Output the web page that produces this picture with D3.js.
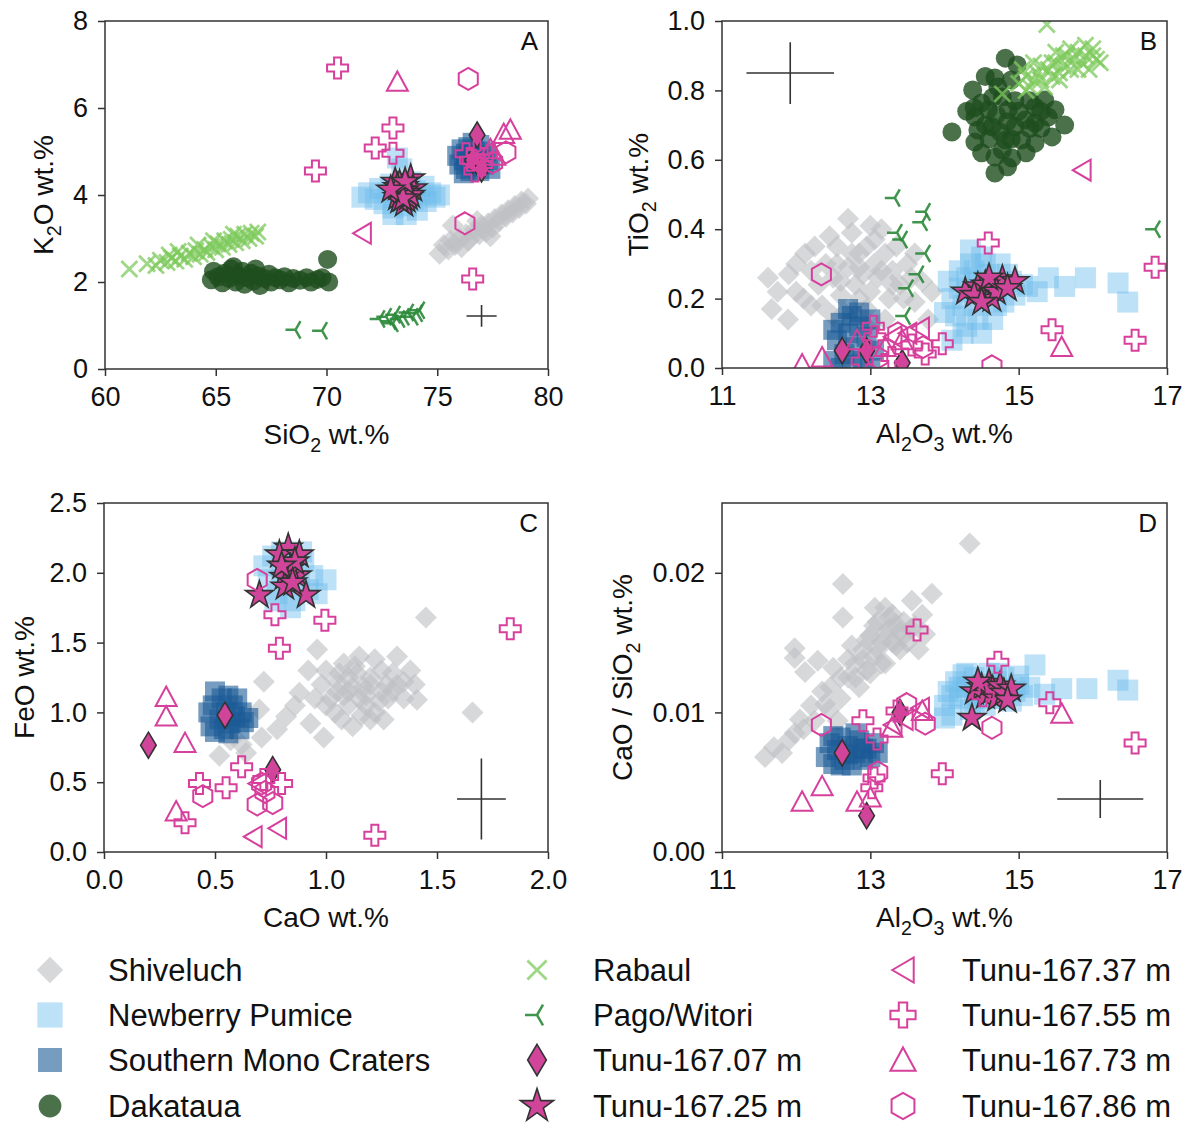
<!DOCTYPE html>
<html><head><meta charset="utf-8">
<script src="https://cdn.jsdelivr.net/npm/d3@7"></script>
<style>body{margin:0;background:#fff}</style>
</head><body>
<svg id="c" width="1187" height="1123"></svg>
<script>
// ---------------- DATA ----------------
// Panel A: SiO2 vs K2O
const shiveluchA = [[75.1,2.65],[75.3,2.85],[75.5,2.75],[75.6,2.95],[75.8,2.85],[76.0,3.0],[76.1,2.8],[76.3,3.1],[76.4,2.95],[76.6,3.05],[76.7,3.2],[76.9,3.1],[77.0,3.3],[77.2,3.15],[77.3,3.35],[77.5,3.25],[77.6,3.45],[77.8,3.4],[77.9,3.55],[78.1,3.5],[78.2,3.65],[78.4,3.6],[78.5,3.75],[78.7,3.7],[78.8,3.85],[79.0,3.8],[79.1,3.92],[75.7,3.3],[76.8,3.4],[77.4,3.05]];
const newberryA = [[71.6,3.95],[71.9,4.05],[72.2,3.9],[72.4,4.15],[72.6,3.8],[72.8,4.05],[72.9,4.25],[73.0,3.7],[73.1,3.95],[73.3,4.1],[73.4,3.85],[73.5,4.2],[73.6,3.75],[73.7,4.0],[73.8,4.3],[73.9,3.9],[74.0,4.1],[74.1,3.65],[74.2,4.0],[74.4,4.2],[74.5,3.85],[74.7,4.05],[74.9,3.95],[75.1,4.0],[73.2,4.85],[73.4,4.6],[73.0,3.55],[73.6,3.55]];
const smcA = [[75.9,4.9],[76.0,4.7],[76.1,5.05],[76.2,4.8],[76.3,4.6],[76.3,4.95],[76.4,5.1],[76.5,4.75],[76.5,4.55],[76.6,4.9],[76.7,5.0],[76.7,4.65],[76.8,4.8],[76.9,5.15],[76.9,4.55],[77.0,4.9],[77.1,4.7],[77.2,5.0],[77.3,4.8],[77.4,4.6],[76.2,4.5],[76.6,5.2]];
const dakatauaA = [[64.8,2.05],[64.9,2.25],[65.1,2.12],[65.3,1.98],[65.4,2.2],[65.6,2.08],[65.7,2.3],[65.9,2.0],[66.0,2.15],[66.2,2.25],[66.3,1.95],[66.4,2.1],[66.6,2.2],[66.7,2.02],[66.9,2.14],[67.0,1.92],[67.2,2.08],[67.4,2.18],[67.5,2.0],[67.7,2.1],[67.9,2.05],[68.1,2.12],[68.3,1.98],[68.5,2.08],[68.8,2.04],[69.1,2.1],[69.3,2.0],[69.6,2.06],[69.8,2.1],[70.1,2.0],[70.05,2.52],[65.8,2.35],[66.8,2.3]];
const rabaulA = [[61.1,2.3],[61.9,2.42],[62.3,2.38],[62.5,2.5],[62.8,2.45],[63.0,2.55],[63.2,2.48],[63.4,2.6],[63.6,2.52],[63.8,2.66],[64.0,2.58],[64.1,2.72],[64.3,2.64],[64.5,2.75],[64.6,2.68],[64.8,2.82],[65.0,2.74],[65.1,2.88],[65.3,2.8],[65.4,2.95],[65.6,2.86],[65.7,2.98],[65.9,2.9],[66.0,3.05],[66.2,2.95],[66.3,3.1],[66.5,3.0],[66.6,3.12],[66.8,3.05],[66.9,3.15],[63.3,2.7],[64.9,2.95],[65.8,3.1],[62.9,2.62],[64.2,2.85]];
const pagoA = [[68.6,0.9],[69.8,0.88],[72.4,1.15],[72.7,1.2],[72.9,1.1],[73.1,1.25],[73.3,1.15],[73.5,1.2],[73.7,1.3],[73.9,1.2],[74.1,1.28],[74.2,1.35],[73.0,1.05]];
const tunu07A = [[76.6,4.8],[77.0,4.6],[76.8,5.38]];
const tunu25A = [[73.8,4.38],[73.2,3.95],[73.4,4.05],[73.5,4.2],[73.6,3.9],[73.3,4.25],[73.7,4.1],[73.1,4.3],[73.5,3.8],[73.9,4.15],[73.4,4.0],[73.6,4.05],[73.3,3.88],[73.7,3.95],[73.5,4.1],[73.2,4.18],[73.8,4.0],[73.45,3.92],[73.55,4.3],[72.9,4.12]];
const tunu37A = [[71.6,3.12],[77.1,4.95],[76.7,4.7]];
const tunu55A = [[70.5,6.92],[73.0,5.54],[72.2,5.08],[73.0,4.96],[69.5,4.55],[76.6,2.07],[76.5,4.8],[76.8,5.0],[76.3,4.95],[77.0,4.7],[76.7,4.55]];
const tunu73A = [[73.2,6.6],[78.0,5.4],[78.3,5.5],[77.4,5.05],[77.6,4.9]];
const tunu86A = [[76.4,6.67],[76.25,3.35],[78.1,4.98],[77.5,4.75]];

// Panel B: Al2O3 vs TiO2
const shiveluchB = [[12.7,0.43],[11.62,0.26],[11.67,0.17],[11.89,0.14],[12.12,0.33],[13.83,0.22],[13.78,0.14],[13.06,0.37],[11.9,0.27],[12.0,0.22],[12.2,0.28],[12.3,0.24],[12.4,0.3],[12.5,0.26],[12.55,0.35],[12.6,0.21],[12.7,0.29],[12.8,0.24],[12.85,0.33],[12.9,0.27],[13.0,0.22],[13.05,0.3],[13.1,0.26],[13.2,0.33],[13.25,0.2],[13.3,0.28],[13.4,0.24],[13.5,0.3],[13.6,0.19],[12.45,0.38],[12.65,0.16],[13.15,0.4],[12.35,0.18],[13.55,0.26],[12.75,0.39],[12.1,0.2],[12.95,0.17],
  [12.0,0.3],[12.25,0.35],[12.55,0.3],[12.75,0.33],[12.95,0.35],[13.15,0.28],[13.35,0.35],[12.6,0.25],[12.85,0.2],[13.45,0.2],[13.7,0.25],[12.2,0.18],[11.75,0.22],[13.2,0.14],[13.6,0.33],[12.95,0.12],[12.5,0.15],[13.0,0.41],[12.85,0.29],[13.3,0.24]];
const newberryB = [[14.05,0.25],[14.1,0.2],[14.15,0.15],[14.2,0.28],[14.25,0.1],[14.3,0.22],[14.35,0.3],[14.4,0.18],[14.45,0.25],[14.5,0.32],[14.55,0.2],[14.6,0.27],[14.65,0.14],[14.7,0.23],[14.75,0.3],[14.8,0.19],[14.9,0.25],[14.95,0.21],[15.05,0.24],[14.1,0.08],[14.3,0.12],[14.0,0.16],[14.5,0.1],[15.4,0.26],[15.62,0.235],[15.9,0.26],[16.34,0.245],[16.47,0.19],[15.12,0.235],[15.25,0.22],
  [14.3,0.26],[14.4,0.28],[14.6,0.22],[14.7,0.18],[14.45,0.14],[14.2,0.23],[14.85,0.27],[14.35,0.34],[14.55,0.3],[14.25,0.18]];
const smcB = [[12.5,0.02],[12.55,0.08],[12.6,0.13],[12.65,0.04],[12.7,0.1],[12.75,0.15],[12.8,0.06],[12.85,0.12],[12.9,0.02],[12.95,0.09],[13.0,0.14],[13.05,0.05],[12.6,0.0],[12.7,0.17],[12.85,0.16],[12.5,0.11],[13.0,0.0],[12.75,0.01]];
const dakatauaB = [[14.82,0.893],[14.98,0.873],[14.68,0.836],[14.38,0.801],[14.78,0.781],[14.41,0.723],[14.1,0.68],[14.41,0.651],[14.68,0.608],[14.91,0.605],[14.68,0.562],[15.22,0.648],[15.62,0.70],[15.49,0.744],[15.35,0.772],[15.09,0.715],[14.86,0.744],[14.59,0.744],[14.64,0.695],[14.95,0.695],[15.22,0.706],[14.82,0.657],[15.04,0.657],[14.5,0.764],[15.22,0.752],[15.4,0.723],[14.72,0.81],[14.45,0.686],[14.78,0.628],[15.45,0.666],
  [14.55,0.70],[14.7,0.73],[14.85,0.71],[15.0,0.74],[15.15,0.69],[14.6,0.66],[14.9,0.66],[15.1,0.62],[14.5,0.62],[14.75,0.68],[15.3,0.69],[14.95,0.77],[14.65,0.78],[14.3,0.74],[15.15,0.77],[14.85,0.58],[14.55,0.84],[14.9,0.83],[15.3,0.74],[14.4,0.75]];
const rabaulB = [[14.78,0.79],[15.0,0.82],[15.1,0.84],[15.15,0.81],[15.25,0.85],[15.3,0.83],[15.4,0.86],[15.45,0.84],[15.5,0.88],[15.55,0.85],[15.6,0.87],[15.65,0.9],[15.7,0.86],[15.75,0.89],[15.8,0.91],[15.85,0.88],[15.9,0.9],[16.0,0.92],[16.05,0.89],[16.1,0.88],[15.38,0.99],[15.2,0.88],[15.5,0.91],[15.35,0.81],[15.05,0.86],[15.95,0.86],
  [15.1,0.8],[15.3,0.87],[15.6,0.9],[15.7,0.92],[15.8,0.86],[16.0,0.9],[15.45,0.88],[15.2,0.83],[15.9,0.93],[15.55,0.83]];
const pagoB = [[13.33,0.49],[13.74,0.45],[13.70,0.42],[13.36,0.39],[13.43,0.37],[13.74,0.33],[13.65,0.27],[13.51,0.23],[13.47,0.15],[16.84,0.40]];
const tunu07B = [[12.62,0.05],[12.95,0.05],[13.43,0.015]];
const tunu25B = [[14.28,0.22],[14.78,0.255],[14.95,0.25],[14.64,0.2],[14.45,0.235],[14.55,0.24],[14.7,0.22],[14.6,0.26],[14.4,0.21],[14.85,0.23],[14.5,0.19]];
const tunu37B = [[15.85,0.57],[13.67,0.115],[13.3,0.09],[13.5,0.1]];
const tunu55B = [[14.59,0.36],[16.84,0.29],[15.45,0.11],[16.57,0.08],[13.97,0.07],[13.04,0.12],[13.06,0.09],[13.29,0.03],[13.74,0.04],[12.89,0.02],[13.56,0.066]];
const tunu73B = [[12.35,0.03],[12.08,0.01],[15.58,0.06],[12.82,0.08],[13.43,0.08],[13.2,0.06]];
const tunu86B = [[12.34,0.27],[14.64,0.005],[13.37,0.1],[13.71,0.06],[13.1,0.03]];

// Panel C: CaO vs FeO
const shiveluchC = [[1.45,1.68],[1.66,1.0],[0.72,1.22],[0.96,1.45],[1.41,1.09],[0.99,0.82],[0.82,0.97],[0.93,0.92],[0.88,1.14],[0.71,0.82],[0.52,0.69],[0.64,0.71],[0.57,0.8],[0.70,1.02],[1.32,1.4],[1.26,0.95],[1.0,1.3],[1.02,1.1],[1.05,1.22],[1.08,1.35],[1.1,1.05],[1.12,1.18],[1.14,1.28],[1.16,0.98],[1.18,1.12],[1.2,1.25],[1.22,1.38],[1.24,1.08],[1.27,1.2],[1.3,1.15],[1.35,1.22],[1.07,0.95],[1.15,1.4],[1.04,1.0],[1.2,0.95],[1.12,0.9],[1.25,1.3],[1.38,1.3],[0.98,1.2],[1.1,1.15],
  [1.05,1.15],[1.1,1.25],[1.15,1.1],[1.2,1.2],[1.25,1.15],[1.08,1.12],[1.18,1.05],[1.28,1.1],[1.32,1.2],[1.0,1.05],[1.13,1.33],[1.22,1.0],[0.95,1.1],[1.35,1.1],[1.3,1.28],[0.86,1.05],[1.4,1.2],[1.17,1.18],[1.06,1.28],[0.78,0.88],[0.62,0.77],[0.92,1.3]];
const newberryC = [[0.72,2.05],[0.74,1.95],[0.76,2.12],[0.78,1.85],[0.8,2.0],[0.82,2.1],[0.83,1.9],[0.85,2.05],[0.86,1.8],[0.88,1.95],[0.9,2.08],[0.92,1.88],[0.94,1.98],[1.0,1.95],[0.84,1.75],[0.77,1.8],[0.96,1.85],[0.8,2.15],[0.89,2.15]];
const smcC = [[0.48,0.9],[0.49,1.05],[0.5,1.15],[0.52,0.95],[0.53,1.1],[0.54,0.88],[0.55,1.0],[0.56,1.12],[0.57,0.92],[0.58,1.05],[0.59,0.97],[0.6,1.1],[0.61,0.88],[0.62,1.0],[0.63,0.93],[0.65,0.96],[0.5,0.86],[0.56,0.85],[0.47,1.0]];
const tunu07C = [[0.545,0.98],[0.2,0.765],[0.76,0.59]];
const tunu25C = [[0.83,2.18],[0.79,2.13],[0.88,2.13],[0.87,1.98],[0.81,1.97],[0.70,1.84],[0.91,1.84],[0.84,2.03],[0.815,1.90],[0.86,2.08],[0.8,2.05],[0.85,1.93]];
const tunu37C = [[0.67,0.11],[0.78,0.17],[0.69,0.49]];
const tunu55C = [[0.77,1.70],[0.995,1.66],[0.79,1.46],[1.83,1.60],[1.22,0.12],[0.365,0.21],[0.43,0.49],[0.55,0.46],[0.62,0.61],[0.80,0.49],[0.72,0.52]];
const tunu73C = [[0.28,1.11],[0.28,0.97],[0.365,0.78],[0.325,0.29]];
const tunu86C = [[0.69,1.95],[0.445,0.40],[0.69,0.34],[0.76,0.35],[0.725,0.43],[0.71,0.49]];

// Panel D: Al2O3 vs CaO/SiO2
const shiveluchD = [[14.34,0.0221],[12.63,0.0192],[13.83,0.0185],[12.63,0.0168],[11.98,0.0146],[11.58,0.0068],[11.98,0.0139],[12.12,0.0129],[12.46,0.0118],[12.29,0.0137],[11.81,0.0071],[11.98,0.0085],[12.25,0.0094],[12.56,0.0094],[12.39,0.0106],[13.74,0.0156],[13.56,0.018],[13.06,0.0175],[11.7,0.0075],[12.1,0.0088],[12.7,0.0125],[12.8,0.0135],[12.9,0.0145],[12.95,0.013],[13.0,0.0155],[13.05,0.014],[13.1,0.0165],[13.15,0.015],[13.2,0.0135],[13.25,0.016],[13.3,0.017],[13.35,0.0148],[13.4,0.0158],[13.45,0.0165],[13.5,0.015],[13.6,0.0162],[12.85,0.0118],[12.75,0.0148],[13.2,0.0175],[12.6,0.011],[12.45,0.0102],[13.65,0.0145],
  [12.9,0.0138],[13.0,0.0128],[13.1,0.0145],[13.2,0.0155],[13.3,0.015],[13.4,0.0145],[12.95,0.0152],[13.15,0.0135],[13.25,0.0168],[13.35,0.0163],[13.05,0.0162],[12.7,0.0138],[12.8,0.0125],[13.45,0.0155],[12.6,0.0125],[13.55,0.016],[12.35,0.0115],[12.2,0.0105],[11.9,0.008],[12.05,0.0095],[13.7,0.017],[12.5,0.0132]];
const newberryD = [[14.0,0.0105],[14.05,0.0115],[14.1,0.0098],[14.15,0.0122],[14.2,0.011],[14.3,0.0118],[14.35,0.0102],[14.4,0.0125],[14.45,0.0112],[14.5,0.012],[14.55,0.0105],[14.6,0.0128],[14.65,0.0115],[14.7,0.0122],[14.75,0.011],[14.8,0.0125],[14.85,0.0117],[14.9,0.0108],[15.0,0.012],[15.05,0.0112],[15.15,0.0118],[14.0,0.0096],[14.25,0.0127],[15.22,0.0134],[15.58,0.0117],[15.92,0.0117],[16.34,0.0123],[16.47,0.0116],[15.35,0.0113],
  [14.2,0.0118],[14.4,0.0108],[14.6,0.011],[14.8,0.0115],[15.0,0.0126],[14.3,0.0128],[14.5,0.0113],[14.1,0.0112],[14.95,0.0115],[14.7,0.0128]];
const smcD = [[12.4,0.0068],[12.45,0.0078],[12.5,0.0063],[12.55,0.0073],[12.6,0.0082],[12.65,0.0066],[12.7,0.0076],[12.75,0.0062],[12.8,0.0071],[12.85,0.008],[12.9,0.0066],[12.95,0.0074],[13.0,0.0068],[13.05,0.0078],[13.1,0.0071],[12.6,0.0062],[12.8,0.0085],[12.5,0.0083],[12.7,0.007],[12.9,0.0074]];
const tunu07D = [[12.62,0.0071],[12.95,0.0026],[13.4,0.0100]];
const tunu25D = [[14.4,0.0115],[14.5,0.0118],[14.55,0.0112],[14.6,0.0121],[14.65,0.0116],[14.7,0.011],[14.75,0.0119],[14.8,0.0114],[14.9,0.0117],[14.45,0.0122],[14.85,0.0109],[14.37,0.0096]];
const tunu37D = [[13.67,0.0103],[13.45,0.0095],[13.3,0.0091]];
const tunu55D = [[13.63,0.0159],[14.72,0.0136],[15.42,0.0107],[16.57,0.0078],[13.97,0.0056],[12.9,0.0094],[13.09,0.0081],[13.02,0.0046],[14.52,0.0112],[13.36,0.0101],[13.05,0.0053]];
const tunu73D = [[12.08,0.0036],[12.35,0.0047],[12.82,0.0036],[13.0,0.0039],[15.58,0.0099],[13.29,0.0089],[13.7,0.0101]];
const tunu86D = [[12.34,0.0091],[14.64,0.0089],[13.74,0.0092],[13.1,0.0057],[13.49,0.0106]];

// analytical uncertainty crosses: [x, y, halfX, halfY]
const errA = [77.0, 1.22, 0.68, 0.25];
const errB = [11.92, 0.85, 0.59, 0.089];
const errC = [1.70, 0.38, 0.11, 0.29];
const errD = [16.1, 0.0038, 0.58, 0.00136];

// tick values
const xTicksA = [60,65,70,75,80], yTicksA = [0,2,4,6,8];
const xTicksB = [11,13,15,17], yTicksB = [0,0.2,0.4,0.6,0.8,1.0];
const xTicksC = [0,0.5,1.0,1.5,2.0], yTicksC = [0,0.5,1.0,1.5,2.0,2.5];
const xTicksD = [11,13,15,17], yTicksD = [0,0.01,0.02];

const seriesKeys = ['shiveluch','newberry','smc','dakataua','rabaul','pago','t07','t25','t37','t55','t73','t86'];
const seriesNames = ['Shiveluch','Newberry Pumice','Southern Mono Craters','Dakataua','Rabaul','Pago/Witori','Tunu-167.07 m','Tunu-167.25 m','Tunu-167.37 m','Tunu-167.55 m','Tunu-167.73 m','Tunu-167.86 m'];

// ---------------- STYLE ----------------
const FONT = "'Liberation Sans', Arial, Helvetica, sans-serif";
const MAG = '#d6409c';
const styles = {
  shiveluch:{sym:'D', r:11, fill:'#bfc0c3', stroke:'none', op:0.62},
  newberry:{sym:'s', r:10.5, fill:'#6cbcea', stroke:'none', op:0.45},
  smc:{sym:'s', r:10, fill:'#1a5a96', stroke:'none', op:0.6},
  dakataua:{sym:'o', r:9.5, fill:'#1e4d1e', stroke:'none', op:0.8},
  rabaul:{sym:'x', r:8, fill:'none', stroke:'#7dc95c', sw:2.8, op:0.75},
  pago:{sym:'3', r:10, fill:'none', stroke:'#2b8a3a', sw:2.5, op:0.9},
  t07:{sym:'d', r:13, fill:'#d0449a', stroke:'#333', sw:1.6, op:1},
  t25:{sym:'*', r:14.5, fill:'#d0449a', stroke:'#333', sw:1.6, op:1},
  t37:{sym:'<', r:10.5, fill:'none', stroke:MAG, sw:2, op:1},
  t55:{sym:'P', r:10.5, fill:'none', stroke:MAG, sw:2, op:1},
  t73:{sym:'^', r:10.5, fill:'none', stroke:MAG, sw:2, op:1},
  t86:{sym:'h', r:11, fill:'none', stroke:MAG, sw:2, op:1}
};

function symPath(t, r){
  const f = v => v.toFixed(2);
  switch(t){
    case 'D': return `M0,${-r}L${r},0L0,${r}L${-r},0Z`;
    case 'd': return `M0,${-r}L${f(r*0.6)},0L0,${r}L${f(-r*0.6)},0Z`;
    case 's': return `M${-r},${-r}H${r}V${r}H${-r}Z`;
    case 'o': return `M${r},0A${r},${r} 0 1,1 ${-r},0A${r},${r} 0 1,1 ${r},0Z`;
    case 'x': return `M${-r},${-r}L${r},${r}M${-r},${r}L${r},${-r}`;
    case '3': return `M0,0L${-r},0M0,0L${f(r*0.5)},${f(-r*0.866)}M0,0L${f(r*0.5)},${f(r*0.866)}`;
    case '*': { let p=''; for(let i=0;i<10;i++){const a=-Math.PI/2+i*Math.PI/5; const rr=i%2?r*0.382:r; p+=(i?'L':'M')+f(rr*Math.cos(a))+','+f(rr*Math.sin(a));} return p+'Z'; }
    case '<': return `M${f(-r*0.85)},0L${f(r*0.85)},${-r}L${f(r*0.85)},${r}Z`;
    case '^': return `M0,${-r}L${r},${f(r*0.85)}L${-r},${f(r*0.85)}Z`;
    case 'P': { const q=r/3; return `M${f(-q)},${-r}H${f(q)}V${f(-q)}H${r}V${f(q)}H${f(q)}V${r}H${f(-q)}V${f(q)}H${-r}V${f(-q)}H${f(-q)}Z`; }
    case 'h': { let p=''; for(let i=0;i<6;i++){const a=-Math.PI/2+i*Math.PI/3; p+=(i?'L':'M')+f(r*Math.cos(a))+','+f(r*Math.sin(a));} return p+'Z'; }
  }
}

const panels = [
  {id:'A', box:[105,548,21,369], xDom:[60,80], yDom:[0,8], xT:xTicksA, yT:yTicksA, xF:d3.format('d'), yF:d3.format('d'), err:errA,
   data:{shiveluch:shiveluchA,newberry:newberryA,smc:smcA,dakataua:dakatauaA,rabaul:rabaulA,pago:pagoA,t07:tunu07A,t25:tunu25A,t37:tunu37A,t55:tunu55A,t73:tunu73A,t86:tunu86A},
   xLab:[['SiO',0],['2',1],[' wt.%',0]], yLab:[['K',0],['2',1],['O wt.%',0]], yLabX:53},
  {id:'B', box:[722,1167,21,368], xDom:[11,17], yDom:[0,1], xT:xTicksB, yT:yTicksB, xF:d3.format('d'), yF:d3.format('.1f'), err:errB,
   data:{shiveluch:shiveluchB,newberry:newberryB,smc:smcB,dakataua:dakatauaB,rabaul:rabaulB,pago:pagoB,t07:tunu07B,t25:tunu25B,t37:tunu37B,t55:tunu55B,t73:tunu73B,t86:tunu86B},
   xLab:[['Al',0],['2',1],['O',0],['3',1],[' wt.%',0]], yLab:[['TiO',0],['2',1],[' wt.%',0]], yLabX:648},
  {id:'C', box:[104,548,503,852], xDom:[0,2], yDom:[0,2.5], xT:xTicksC, yT:yTicksC, xF:d3.format('.1f'), yF:d3.format('.1f'), err:errC,
   data:{shiveluch:shiveluchC,newberry:newberryC,smc:smcC,t07:tunu07C,t25:tunu25C,t37:tunu37C,t55:tunu55C,t73:tunu73C,t86:tunu86C},
   xLab:[['CaO wt.%',0]], yLab:[['FeO wt.%',0]], yLabX:34},
  {id:'D', box:[722,1167,503,852], xDom:[11,17], yDom:[0,0.025], xT:xTicksD, yT:yTicksD, xF:d3.format('d'), yF:d3.format('.2f'), err:errD,
   data:{shiveluch:shiveluchD,newberry:newberryD,smc:smcD,t07:tunu07D,t25:tunu25D,t37:tunu37D,t55:tunu55D,t73:tunu73D,t86:tunu86D},
   xLab:[['Al',0],['2',1],['O',0],['3',1],[' wt.%',0]], yLab:[['CaO / SiO',0],['2',1],[' wt.%',0]], yLabX:632}
];

const svg = d3.select('#c');
svg.append('rect').attr('width',1187).attr('height',1123).attr('fill','#fff');
const defs = svg.append('defs');

function addLabel(sel, parts, size){
  parts.forEach((p,i)=>{
    const prevSub = i>0 && parts[i-1][1];
    const ts = sel.append('tspan').text(p[0]);
    if(p[1]){ ts.attr('font-size', size*0.7).attr('dy', size*0.28); }
    else if(prevSub){ ts.attr('dy', -size*0.28); }
  });
}

function sty(sel, st){
  sel.attr('fill', st.fill).attr('stroke', st.stroke).attr('stroke-width', st.sw||0)
     .attr('opacity', st.op).attr('stroke-linejoin','miter');
}

panels.forEach(p=>{
  const [x0,x1,y0,y1] = p.box;
  const x = d3.scaleLinear().domain(p.xDom).range([x0,x1]);
  const y = d3.scaleLinear().domain(p.yDom).range([y1,y0]);
  defs.append('clipPath').attr('id','clip'+p.id).append('rect')
    .attr('x',x0).attr('y',y0).attr('width',x1-x0).attr('height',y1-y0);
  const g = svg.append('g');
  const pg = g.append('g').attr('clip-path',`url(#clip${p.id})`);
  seriesKeys.forEach(k=>{
    const d = p.data[k]; if(!d) return;
    const st = styles[k];
    pg.append('g').selectAll('path').data(d).join('path')
      .attr('transform', v=>`translate(${x(v[0])},${y(v[1])})`)
      .attr('d', symPath(st.sym, st.r))
      .call(s=>sty(s,st));
  });
  const e = p.err;
  pg.append('path')
    .attr('d',`M${x(e[0]-e[2])},${y(e[1])}H${x(e[0]+e[2])}M${x(e[0])},${y(e[1]-e[3])}V${y(e[1]+e[3])}`)
    .attr('stroke','#333').attr('stroke-width',1.6).attr('fill','none');

  const ax = g.append('g').attr('transform',`translate(0,${y1})`)
    .call(d3.axisBottom(x).tickValues(p.xT).tickFormat(p.xF).tickSize(7).tickPadding(11));
  const ay = g.append('g').attr('transform',`translate(${x0},0)`)
    .call(d3.axisLeft(y).tickValues(p.yT).tickFormat(p.yF).tickSize(7).tickPadding(10));
  [ax,ay].forEach(a=>{
    a.select('.domain').remove();
    a.selectAll('line').attr('stroke','#333').attr('stroke-width',1.5);
    a.selectAll('text').attr('font-family',FONT).attr('font-size',27).attr('fill','#111');
  });
  g.append('rect').attr('x',x0).attr('y',y0).attr('width',x1-x0).attr('height',y1-y0)
    .attr('fill','none').attr('stroke','#333').attr('stroke-width',1.5);
  g.append('text').attr('x',x1-10).attr('y',y0+29).attr('text-anchor','end')
    .attr('font-family',FONT).attr('font-size',26).attr('fill','#111').text(p.id);
  const xl = g.append('text').attr('x',(x0+x1)/2).attr('y',y1+75).attr('text-anchor','middle')
    .attr('font-family',FONT).attr('font-size',28).attr('fill','#111');
  addLabel(xl, p.xLab, 28);
  const yl = g.append('text').attr('transform',`translate(${p.yLabX},${(y0+y1)/2}) rotate(-90)`).attr('text-anchor','middle')
    .attr('font-family',FONT).attr('font-size',28).attr('fill','#111');
  addLabel(yl, p.yLab, 28);
});

// ---------------- LEGEND ----------------
const legCols = [[50,108],[537,593],[903,962]];
const legRows = [970,1015,1060,1106];
seriesKeys.forEach((k,i)=>{
  const c = legCols[Math.floor(i/4)], r = legRows[i%4];
  const st = styles[k];
  svg.append('path').attr('transform',`translate(${c[0]},${r})`).attr('d', symPath(st.sym, st.r*1.2)).call(s=>sty(s,st));
  svg.append('text').attr('x',c[1]).attr('y',r+11).attr('font-family',FONT).attr('font-size',31).attr('fill','#111').text(seriesNames[i]);
});
</script>
</body></html>
